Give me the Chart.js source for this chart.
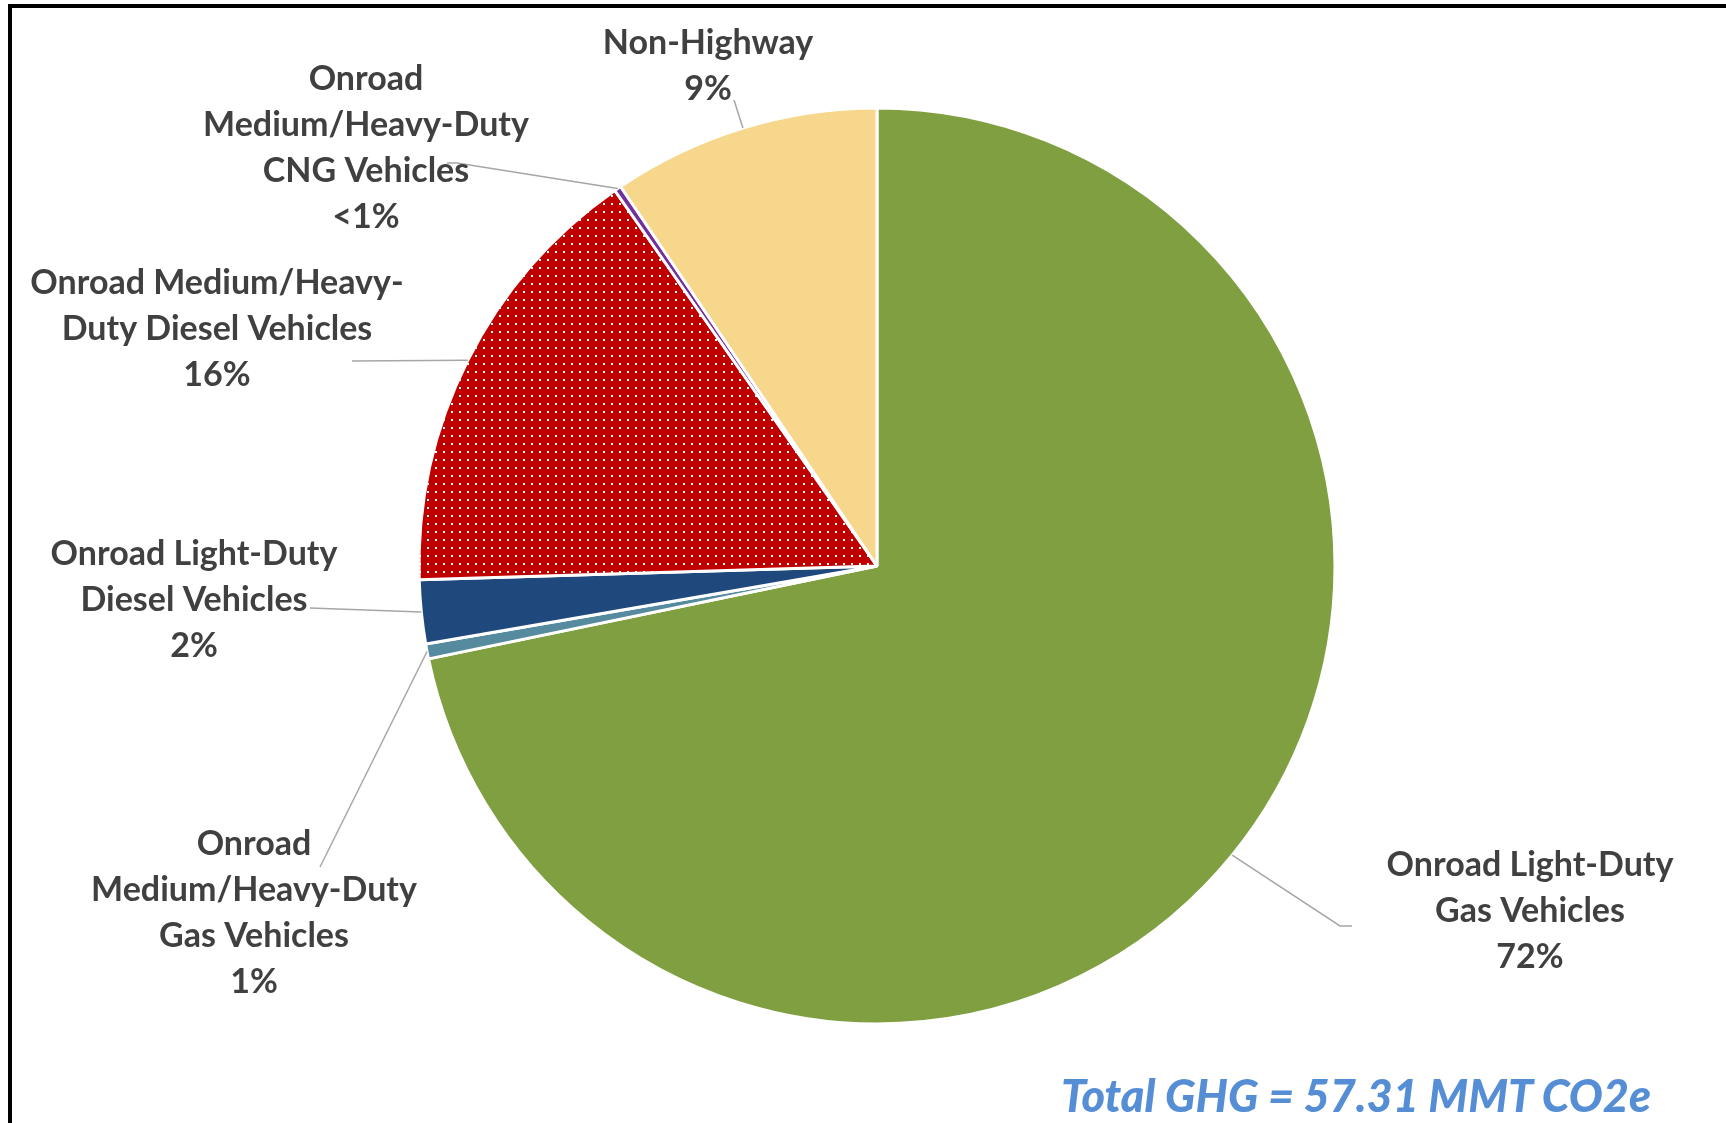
<!DOCTYPE html>
<html>
<head>
<meta charset="utf-8">
<script src="https://cdn.jsdelivr.net/npm/chart.js@4/dist/chart.umd.min.js"></script>
<style>
    html, body { margin: 0; padding: 0; background: #fff; }
    #wrap { position: relative; width: 1726px; height: 1123px; overflow: hidden; }
    #frame {
        position: absolute; left: 8px; top: 4px; width: 1800px; height: 1200px;
        border-left: 4px solid #000; border-top: 4px solid #000;
    }
    #ghg-chart { position: absolute; left: 0; top: 0; }
    #total {
        position: absolute; left: 1000px; width: 712px; top: 1068px;
        text-align: center; color: #558ed5;
        font: italic 900 45px Lato, sans-serif;
    }
</style>
</head>
<body>
<div id="wrap">
    <div id="frame"></div>
    <canvas id="ghg-chart" width="1726" height="1123"></canvas>
    <div id="total">Total GHG = 57.31 MMT CO2e</div>
</div>
<script>
// source categories, clockwise from 12 o'clock
const categories = [
    ['Onroad Light-Duty', 'Gas Vehicles'],
    ['Onroad', 'Medium/Heavy-Duty', 'Gas Vehicles'],
    ['Onroad Light-Duty', 'Diesel Vehicles'],
    ['Onroad Medium/Heavy-', 'Duty Diesel Vehicles'],
    ['Onroad', 'Medium/Heavy-Duty', 'CNG Vehicles'],
    ['Non-Highway']
];
// MMT CO2e (total 57.31)
const emissions = [41.12, 0.30, 1.29, 9.04, 0.14, 5.42];

const sliceColors = ['#7f9f41', '#558a9f', '#1f487c', null, '#7030a0', '#f6d78b'];

// label placement relative to pie centre (px), plus leader start / kink
const labelLayout = [
    { dx: 653, dy: 345, leader: [[475, 360], [463, 360]] },
    { dx: -623, dy: 347, leader: [[-557, 301]] },
    { dx: -683, dy: 34, leader: [[-567, 42]] },
    { dx: -660, dy: -237, leader: [[-525, -205]] },
    { dx: -511, dy: -418, leader: [[-430, -403], [-420, -403]] },
    { dx: -169, dy: -500, leader: [[-143, -466]] }
];
const lineHeight = 46;

function dotPattern() {
    const c = document.createElement('canvas');
    c.width = 8; c.height = 8;
    const g = c.getContext('2d');
    g.fillStyle = '#c00000';
    g.fillRect(0, 0, 8, 8);
    g.fillStyle = '#ffffff';
    g.fillRect(3, 3, 2, 2);
    return g.createPattern(c, 'repeat');
}
sliceColors[3] = dotPattern();

const total = emissions.reduce((a, b) => a + b, 0);
function pctText(v) {
    const p = v / total * 100;
    return p < 0.5 ? '<1%' : Math.round(p) + '%';
}

const labelPlugin = {
    id: 'sliceLabels',
    afterDatasetsDraw(chart) {
        const ctx = chart.ctx;
        const arcs = chart.getDatasetMeta(0).data;
        ctx.save();
        arcs.forEach((arc, i) => {
            const lay = labelLayout[i];
            const cx = arc.x, cy = arc.y;
            const mid = (arc.startAngle + arc.endAngle) / 2;
            const ex = cx + Math.cos(mid) * arc.outerRadius;
            const ey = cy + Math.sin(mid) * arc.outerRadius;

            ctx.strokeStyle = '#a6a6a6';
            ctx.lineWidth = 1.5;
            ctx.beginPath();
            lay.leader.forEach((pt, k) => {
                if (k === 0) ctx.moveTo(cx + pt[0], cy + pt[1]);
                else ctx.lineTo(cx + pt[0], cy + pt[1]);
            });
            ctx.lineTo(ex, ey);
            ctx.stroke();

            const lines = categories[i].concat([pctText(emissions[i])]);
            ctx.fillStyle = '#404040';
            ctx.font = 'bold 34px Lato, sans-serif';
            ctx.textAlign = 'center';
            ctx.textBaseline = 'middle';
            const top = cy + lay.dy - (lines.length - 1) * lineHeight / 2;
            lines.forEach((t, k) => ctx.fillText(t, cx + lay.dx, top + k * lineHeight));
        });
        ctx.restore();
    }
};

new Chart(document.getElementById('ghg-chart'), {
    type: 'pie',
    data: {
        labels: categories.map(c => c.join(' ')),
        datasets: [{
            data: emissions,
            backgroundColor: sliceColors,
            borderColor: '#ffffff',
            borderWidth: 3,
            hoverOffset: 0
        }]
    },
    options: {
        responsive: false,
        animation: false,
        layout: { padding: { top: 106.5, bottom: 97.5, left: 417.5, right: 389.5 } },
        plugins: {
            legend: { display: false },
            tooltip: { enabled: false }
        }
    },
    plugins: [labelPlugin]
});
</script>
</body>
</html>
